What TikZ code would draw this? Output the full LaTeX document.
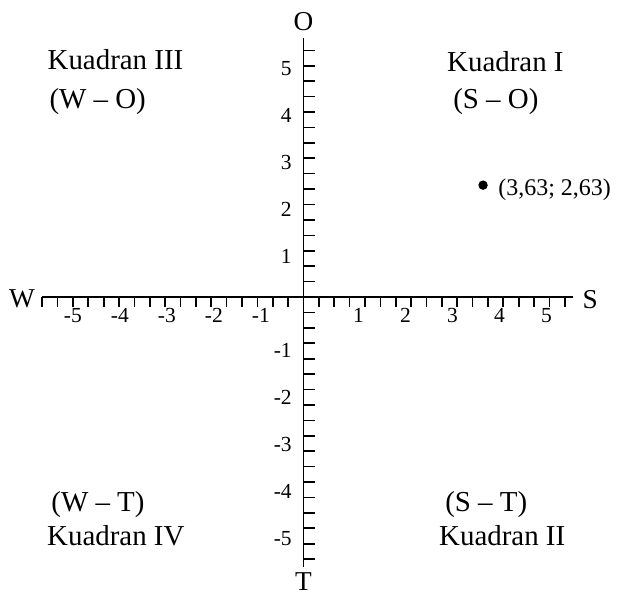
\documentclass[tikz,border=0pt]{standalone}
\usepackage{fontspec}
\setmainfont{Liberation Serif}
\usepackage{tikz}
\tikzset{
    sumbu/.style={draw=black, line width=1.2pt},
    garis/.style={draw=black, line width=1pt},
    angka/.style={font=\fontsize{13}{15}\selectfont, inner sep=0pt, anchor=base east},
    arah/.style={font=\fontsize{16.5}{18}\selectfont, inner sep=0pt},
    kuadran/.style={font=\fontsize{17.5}{20}\selectfont, inner sep=0pt, anchor=base west}
}

\begin{document}
\begin{tikzpicture}
    \useasboundingbox (-6.457,-6.362) rectangle (6.755,6.319);
    % sumbu
    \coordinate (xmin) at (-5.56,0);
    \coordinate (xmax) at (5.73,0);
    \coordinate (ymin) at (0,-5.74);
    \coordinate (ymax) at (0,5.51);
    \draw[sumbu] (xmin) -- (xmax);
    \draw[sumbu] (ymin) -- (ymax);
    \foreach \k in {-17,...,-1,1,2,...,17}
        \draw[garis] (\k*0.327,0) -- (\k*0.327,-0.21);
    \foreach \k in {-17,...,-1,1,2,...,16}
        \draw[garis] (0,\k*0.328) -- (0.24,\k*0.328);
    \foreach \n in {-5,...,-1,1,2,...,5} {
        \node[angka] (x\n) at (\n+0.29,-0.55) {\n};
        \node[angka] (y\n) at (-0.245,\n-0.29) {\n};
    }
    % arah mata angin
    \node[arah] (O) at (0,5.85) {O};
    \node[arah] (T) at (0,-6.06) {T};
    \node[arah] (W) at (-5.99,-0.04) {W};
    \node[arah] (S) at (6.10,-0.05) {S};
    % kuadran
    \node[kuadran] (k3) at (-5.45,4.83) {Kuadran III};
    \node[kuadran] (k3a) at (-5.41,4.02) {(W -- O)};
    \node[kuadran] (k1) at (3.05,4.79) {Kuadran I};
    \node[kuadran] (k1a) at (3.18,4.02) {(S -- O)};
    \node[kuadran] (k4a) at (-5.37,-4.57) {(W -- T)};
    \node[kuadran] (k4) at (-5.46,-5.28) {Kuadran IV};
    \node[kuadran] (k2a) at (3.01,-4.57) {(S -- T)};
    \node[kuadran] (k2) at (2.88,-5.28) {Kuadran II};
    % titik
    \node[circle, fill=black, inner sep=0pt, minimum size=0.2cm] (titik) at (3.82,2.38) {};
    \node[font=\fontsize{14.5}{17}\selectfont, inner sep=0pt, anchor=base west] (ket) at (4.14,2.17) {(3,63; 2,63)};
\end{tikzpicture}
\end{document}
